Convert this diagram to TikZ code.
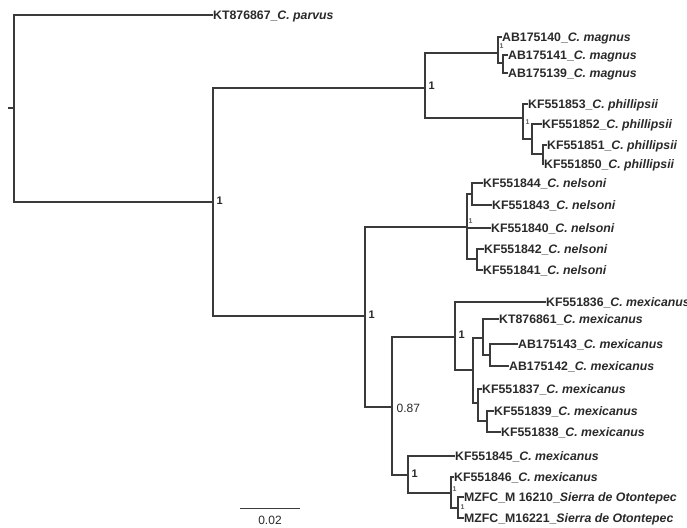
\documentclass[tikz,border=0pt]{standalone}
\usepackage{fontspec}
\setmainfont{Liberation Sans}
\definecolor{treeline}{HTML}{3A3A3A}
\definecolor{labtext}{HTML}{2A2A2A}
\tikzset{
  branch/.style={draw=treeline, line width=1.5pt, line cap=rect},
  leaf/.style={anchor=west, inner sep=1pt, text=labtext, text height=9pt, text depth=0pt, font=\fontsize{12.3}{14}\selectfont\bfseries},
  supp/.style={anchor=west, inner sep=0.5pt, text=labtext, font=\fontsize{11}{13}\selectfont\bfseries},
  suppsmall/.style={anchor=west, inner sep=0.5pt, text=labtext!75, font=\fontsize{7}{8}\selectfont\bfseries},
  scaletext/.style={inner sep=1pt, text=labtext, font=\fontsize{12}{14}\selectfont},
}
\begin{document}
\begin{tikzpicture}[x=1pt, y=-1pt]
\useasboundingbox (0,0) rectangle (687,527);
\clip (0,0) rectangle (687,527);
\fill[white] (0,0) rectangle (687,527);

% internal nodes
\coordinate (R) at (14,108);
\coordinate (A) at (213,202);
\coordinate (B) at (425,88);
\coordinate (M) at (498,53);
\coordinate (M2) at (503,63);
\coordinate (P1) at (523,118);
\coordinate (P2) at (532,139);
\coordinate (P3) at (543,154);
\coordinate (C) at (365,316);
\coordinate (N) at (467,227);
\coordinate (N1) at (472,194);
\coordinate (N3) at (477,259);
\coordinate (D) at (392,407);
\coordinate (Mx) at (455,337);
\coordinate (Mx1) at (473,370);
\coordinate (Mx2) at (483,338);
\coordinate (Mx5) at (490,355);
\coordinate (Mx3) at (478,403);
\coordinate (Mx4) at (487,421);
\coordinate (E) at (408,475);
\coordinate (F) at (451,493);
\coordinate (G) at (458,508);
\coordinate (Rstub) at (9,108);

% leaves
\node[leaf] (parvus) at (212,15) {KT876867\_\textit{C. parvus}};
\node[leaf] (m140) at (501,37) {AB175140\_\textit{C. magnus}};
\node[leaf] (m141) at (507,55) {AB175141\_\textit{C. magnus}};
\node[leaf] (m139) at (507,73) {AB175139\_\textit{C. magnus}};
\node[leaf] (p853) at (527,104) {KF551853\_\textit{C. phillipsii}};
\node[leaf] (p852) at (541,124) {KF551852\_\textit{C. phillipsii}};
\node[leaf] (p851) at (546,145) {KF551851\_\textit{C. phillipsii}};
\node[leaf] (p850) at (543,164) {KF551850\_\textit{C. phillipsii}};
\node[leaf] (n844) at (482,183) {KF551844\_\textit{C. nelsoni}};
\node[leaf] (n843) at (491,205) {KF551843\_\textit{C. nelsoni}};
\node[leaf] (n840) at (490,228) {KF551840\_\textit{C. nelsoni}};
\node[leaf] (n842) at (483,249) {KF551842\_\textit{C. nelsoni}};
\node[leaf] (n841) at (482,270) {KF551841\_\textit{C. nelsoni}};
\node[leaf] (x836) at (545,302) {KF551836\_\textit{C. mexicanus}};
\node[leaf] (x861) at (498,319) {KT876861\_\textit{C. mexicanus}};
\node[leaf] (x143) at (517,344) {AB175143\_\textit{C. mexicanus}};
\node[leaf] (x142) at (508,366) {AB175142\_\textit{C. mexicanus}};
\node[leaf] (x837) at (481,389) {KF551837\_\textit{C. mexicanus}};
\node[leaf] (x839) at (493,411) {KF551839\_\textit{C. mexicanus}};
\node[leaf] (x838) at (500,432) {KF551838\_\textit{C. mexicanus}};
\node[leaf] (x845) at (454,456) {KF551845\_\textit{C. mexicanus}};
\node[leaf] (x846) at (453,477) {KF551846\_\textit{C. mexicanus}};
\node[leaf] (z210) at (463,497) {MZFC\_M 16210\_\textit{Sierra de Otontepec}};
\node[leaf] (z221) at (463,518) {MZFC\_M16221\_\textit{Sierra de Otontepec}};

% branches
\draw[branch] (Rstub) -- (R);
\draw[branch] (R) |- (parvus.west);
\draw[branch] (R) |- (A);
\draw[branch] (A) |- (B);
\draw[branch] (A) |- (C);
\draw[branch] (B) |- (M);
\draw[branch] (B) |- (P1);
\draw[branch] (M) |- (m140.west);
\draw[branch] (M) |- (M2);
\draw[branch] (M2) |- (m141.west);
\draw[branch] (M2) |- (m139.west);
\draw[branch] (P1) |- (p853.west);
\draw[branch] (P1) |- (P2);
\draw[branch] (P2) |- (p852.west);
\draw[branch] (P2) |- (P3);
\draw[branch] (P3) |- (p851.west);
\draw[branch] (P3) |- (p850.west);
\draw[branch] (C) |- (N);
\draw[branch] (C) |- (D);
\draw[branch] (N) |- (N1);
\draw[branch] (N) |- (n840.west);
\draw[branch] (N) |- (N3);
\draw[branch] (N1) |- (n844.west);
\draw[branch] (N1) |- (n843.west);
\draw[branch] (N3) |- (n842.west);
\draw[branch] (N3) |- (n841.west);
\draw[branch] (D) |- (Mx);
\draw[branch] (D) |- (E);
\draw[branch] (Mx) |- (x836.west);
\draw[branch] (Mx) |- (Mx1);
\draw[branch] (Mx1) |- (Mx2);
\draw[branch] (Mx1) |- (Mx3);
\draw[branch] (Mx2) |- (x861.west);
\draw[branch] (Mx2) |- (Mx5);
\draw[branch] (Mx5) |- (x143.west);
\draw[branch] (Mx5) |- (x142.west);
\draw[branch] (Mx3) |- (x837.west);
\draw[branch] (Mx3) |- (Mx4);
\draw[branch] (Mx4) |- (x839.west);
\draw[branch] (Mx4) |- (x838.west);
\draw[branch] (E) |- (x845.west);
\draw[branch] (E) |- (F);
\draw[branch] (F) |- (x846.west);
\draw[branch] (F) |- (G);
\draw[branch] (G) |- (z210.west);
\draw[branch] (G) |- (z221.west);

% support values
\node[supp] (sA) at (216,201) {1};
\node[supp] (sB) at (428,86) {1};
\node[supp] (sC) at (368,315) {1};
\node[supp, font=\fontsize{12}{14}\selectfont] (sD) at (396,408) {0.87};
\node[supp] (sE) at (411,474) {1};
\node[suppsmall] (sN) at (468,221) {1};
\node[supp] (sMx) at (458,335) {1};
\node[suppsmall] (sF) at (452,489) {1};
\node[suppsmall] (sG) at (460,507) {1};
\node[suppsmall] (sM) at (499,46) {1};
\node[suppsmall] (sP) at (525,122) {1};

% scale bar
\coordinate (sb1) at (240,508);
\coordinate (sb2) at (300,508);
\draw[draw=treeline, line width=1pt] (sb1) -- (sb2);
\node[scaletext] (sbl) at (270,520) {0.02};
\end{tikzpicture}
\end{document}
